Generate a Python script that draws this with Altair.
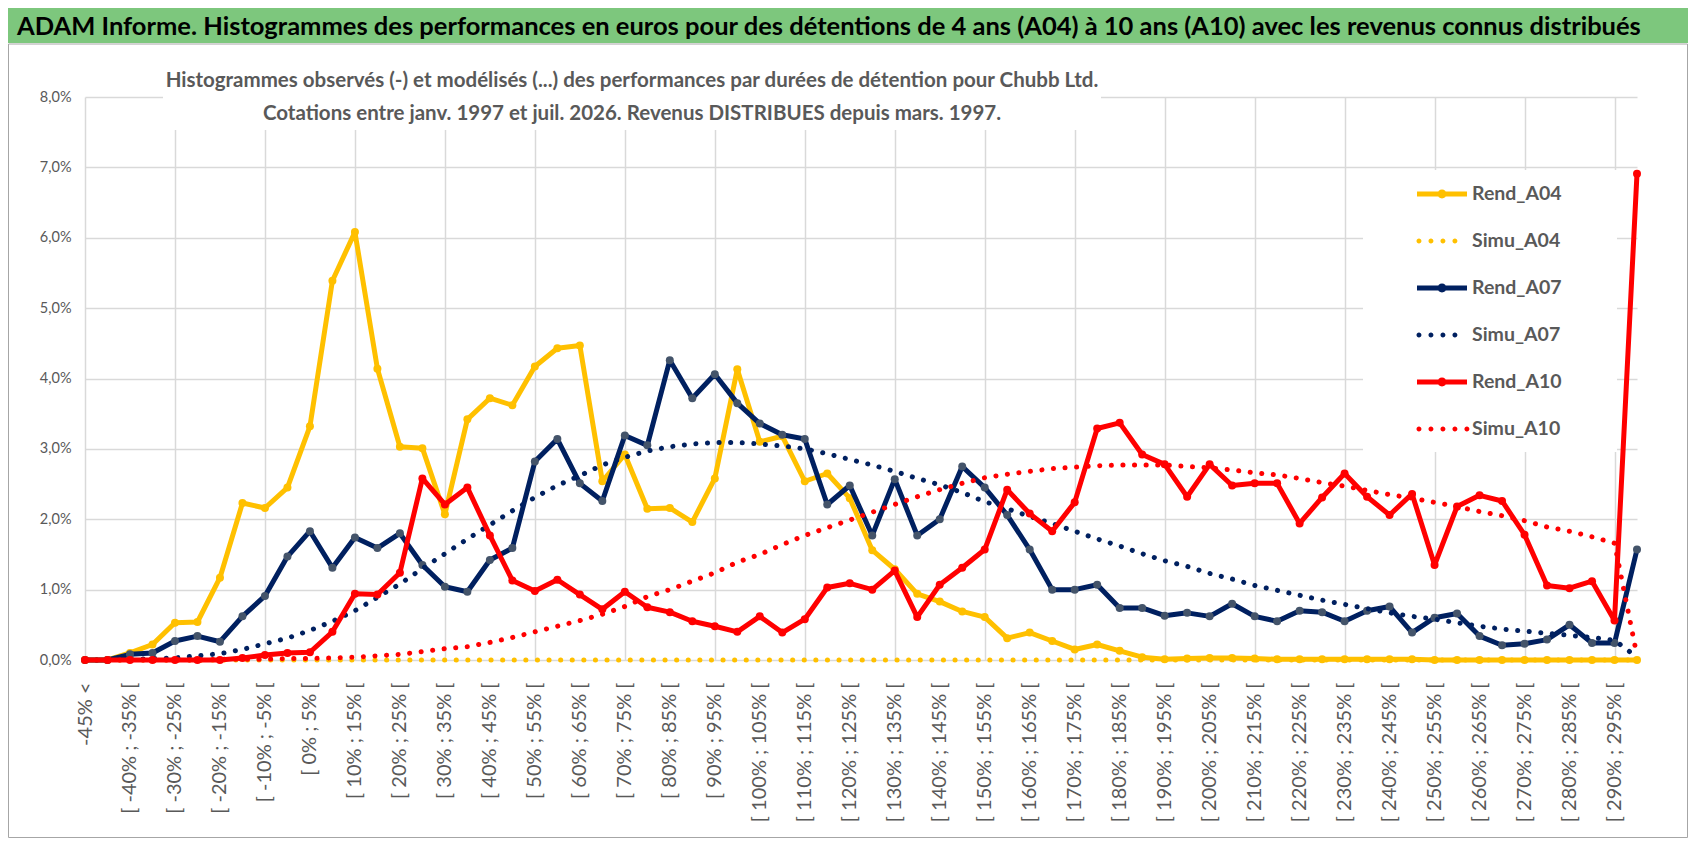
import json

import altair as alt
import pandas as pd

# classes de performance : "-45% <" puis [ b% ; b+5% [ de -45% à 295%
bornes = list(range(-45, 300, 5))
categories = ["-45% <"] + [f"[ {b}% ; {b + 5}% [" for b in bornes]

series = ["Rend_A04", "Simu_A04", "Rend_A07", "Simu_A07", "Rend_A10", "Simu_A10"]
couleurs = ["#FFC000", "#FFC000", "#002060", "#002060", "#FF0000", "#FF0000"]
couleur_duree = {"A04": "#FFC000", "A07": "#002060", "A10": "#FF0000"}
couleur_marqueur = {"A04": "#FFC000", "A07": "#44546A", "A10": "#FF0000"}

# fréquences en %
rend_a04 = [0.00, 0.00, 0.10, 0.22, 0.53, 0.54, 1.17, 2.23, 2.16, 2.45,
            3.32, 5.39, 6.08, 4.14, 3.03, 3.01, 2.07, 3.42, 3.72, 3.62,
            4.17, 4.43, 4.47, 2.54, 2.92, 2.15, 2.16, 1.96, 2.58, 4.13,
            3.10, 3.18, 2.54, 2.65, 2.30, 1.56, 1.29, 0.94, 0.83, 0.69,
            0.61, 0.31, 0.39, 0.27, 0.15, 0.22, 0.13, 0.04, 0.01, 0.02,
            0.03, 0.03, 0.02, 0.01, 0.01, 0.01, 0.01, 0.01, 0.01, 0.01,
            0.00, 0.00, 0.00, 0.00, 0.00, 0.00, 0.00, 0.00, 0.00, 0.00]
simu_a04 = [0.00, 0.00, 0.00, 0.00, 0.00, 0.00, 0.00, 0.00, 0.00, 0.00,
            0.00, 0.00, 0.00, 0.00, 0.00, 0.00, 0.00, 0.00, 0.00, 0.00,
            0.00, 0.00, 0.00, 0.00, 0.00, 0.00, 0.00, 0.00, 0.00, 0.00,
            0.00, 0.00, 0.00, 0.00, 0.00, 0.00, 0.00, 0.00, 0.00, 0.00,
            0.00, 0.00, 0.00, 0.00, 0.00, 0.00, 0.00, 0.00, 0.00, 0.00,
            0.00, 0.00, 0.00, 0.00, 0.00, 0.00, 0.00, 0.00, 0.00, 0.00,
            0.00, 0.00, 0.00, 0.00, 0.00, 0.00, 0.00, 0.00, 0.00, 0.00]
rend_a07 = [0.00, 0.00, 0.08, 0.10, 0.27, 0.34, 0.26, 0.62, 0.91, 1.47,
            1.83, 1.31, 1.74, 1.59, 1.80, 1.35, 1.04, 0.97, 1.42, 1.59,
            2.82, 3.14, 2.51, 2.26, 3.19, 3.05, 4.26, 3.72, 4.06, 3.65,
            3.36, 3.20, 3.14, 2.21, 2.48, 1.77, 2.57, 1.77, 2.00, 2.75,
            2.45, 2.06, 1.57, 1.00, 1.00, 1.07, 0.74, 0.74, 0.63, 0.67,
            0.62, 0.80, 0.62, 0.55, 0.70, 0.68, 0.55, 0.70, 0.76, 0.39,
            0.60, 0.66, 0.34, 0.21, 0.23, 0.29, 0.50, 0.24, 0.24, 1.57]
simu_a07 = [0.00, 0.00, 0.01, 0.02, 0.03, 0.06, 0.09, 0.15, 0.23, 0.31,
            0.42, 0.55, 0.70, 0.89, 1.08, 1.30, 1.51, 1.72, 1.92, 2.12,
            2.31, 2.48, 2.62, 2.77, 2.88, 2.97, 3.03, 3.07, 3.09, 3.09,
            3.07, 3.04, 3.00, 2.93, 2.85, 2.77, 2.68, 2.58, 2.49, 2.38,
            2.25, 2.15, 2.04, 1.94, 1.83, 1.72, 1.62, 1.51, 1.41, 1.33,
            1.23, 1.15, 1.06, 0.99, 0.92, 0.85, 0.79, 0.73, 0.67, 0.62,
            0.58, 0.53, 0.48, 0.44, 0.41, 0.38, 0.35, 0.32, 0.28, 0.04]
rend_a10 = [0.00, 0.00, 0.00, 0.00, 0.00, 0.00, 0.00, 0.03, 0.07, 0.10,
            0.11, 0.40, 0.94, 0.93, 1.24, 2.58, 2.21, 2.45, 1.77, 1.13,
            0.98, 1.14, 0.93, 0.72, 0.97, 0.75, 0.68, 0.55, 0.48, 0.40,
            0.62, 0.39, 0.58, 1.03, 1.09, 1.00, 1.27, 0.61, 1.07, 1.31,
            1.57, 2.42, 2.08, 1.83, 2.24, 3.29, 3.37, 2.92, 2.78, 2.32,
            2.78, 2.48, 2.51, 2.51, 1.94, 2.31, 2.65, 2.32, 2.06, 2.36,
            1.35, 2.18, 2.34, 2.26, 1.78, 1.06, 1.02, 1.12, 0.56, 6.91]
simu_a10 = [0.00, 0.00, 0.00, 0.00, 0.00, 0.00, 0.01, 0.01, 0.01, 0.02,
            0.02, 0.03, 0.04, 0.06, 0.08, 0.12, 0.16, 0.19, 0.25, 0.32,
            0.40, 0.48, 0.56, 0.65, 0.76, 0.90, 1.00, 1.12, 1.24, 1.39,
            1.50, 1.64, 1.77, 1.88, 1.99, 2.10, 2.21, 2.32, 2.42, 2.51,
            2.59, 2.64, 2.68, 2.72, 2.74, 2.76, 2.77, 2.77, 2.77, 2.75,
            2.73, 2.70, 2.66, 2.63, 2.58, 2.52, 2.47, 2.41, 2.35, 2.30,
            2.24, 2.18, 2.11, 2.05, 1.98, 1.89, 1.83, 1.75, 1.66, 0.06]

titre = ("ADAM Informe. Histogrammes des performances en euros pour des détentions "
         "de 4 ans (A04) à 10 ans (A10) avec les revenus connus distribués")
sous_titre = [
    "Histogrammes observés (-) et modélisés (...) des performances par durées de détention pour Chubb Ltd.",
    "Cotations entre janv. 1997 et juil. 2026. Revenus DISTRIBUES depuis mars. 1997.",
]

valeurs = dict(zip(series, [rend_a04, simu_a04, rend_a07, simu_a07, rend_a10, simu_a10]))
rows = []
for nom, vals in valeurs.items():
    for i, v in enumerate(vals):
        rows.append({"idx": i, "categorie": categories[i], "serie": nom, "valeur": v})
df = pd.DataFrame(rows)

FONT = "Lato"
GRIS = "#595959"
W, H = 1552, 563


def rond(cx, r):
    return f"M{cx - r:.3f},0A{r},{r} 0 1,1 {cx + r:.3f},0A{r},{r} 0 1,1 {cx - r:.3f},0Z"


# symboles de légende (unité = 23.5 px)
trait = "M-1.064,-0.106H1.064V0.106H-1.064Z" + rond(0, 0.19)
pointille4 = "".join(rond(c, 0.105) for c in [-0.98, -0.47, 0.04, 0.55])
pointille5 = pointille4 + rond(1.06, 0.105)
formes = [trait, pointille4, trait, pointille4, trait, pointille5]

x_enc = alt.X(
    "idx:Q",
    scale=alt.Scale(domain=[0, 69], nice=False, zero=False),
    axis=alt.Axis(
        values=list(range(0, 69, 2)),
        labelExpr=f"{json.dumps(categories)}[datum.value]",
        labelAngle=-90, labelFont=FONT, labelFontSize=20, labelColor=GRIS,
        labelPadding=22, labelOverlap=False, labelFlush=False,
        domain=False, ticks=False, title=None, zindex=0,
        grid=True, gridColor="#d9d9d9", gridWidth=1.5,
        gridOpacity={"condition": {"test": "datum.value % 4 === 0", "value": 1}, "value": 0},
    ),
)
y_enc = alt.Y(
    "valeur:Q",
    scale=alt.Scale(domain=[0, 8], nice=False),
    axis=alt.Axis(
        values=list(range(0, 9)),
        labelExpr="replace(format(datum.value, '.1f'), '.', ',') + '%'",
        labelFont=FONT, labelFontSize=14.5, labelColor=GRIS, labelPadding=14,
        labelFlush=False, domain=False, ticks=False, title=None, zindex=0,
        grid=True, gridColor="#d9d9d9", gridWidth=1.5,
    ),
)

un = pd.DataFrame({"k": [0]})
cadre = alt.Chart(un).mark_rect(fillOpacity=0, stroke="#a6a6a6", strokeWidth=1).encode(
    x=alt.value(-76.5), x2=alt.value(1602.5), y=alt.value(-53), y2=alt.value(740.5))
bandeau = alt.Chart(un).mark_rect(fill="#7DC77D").encode(
    x=alt.value(-77), x2=alt.value(1603), y=alt.value(-89), y2=alt.value(-54))
fond_sous_titre = alt.Chart(un).mark_rect(fill="white").encode(
    x=alt.value(78), x2=alt.value(1016), y=alt.value(-37), y2=alt.value(33))
fond_legende = alt.Chart(un).mark_rect(fill="white").encode(
    x=alt.value(1278), x2=alt.value(1532), y=alt.value(73), y2=alt.value(355))
texte_sous_titre = alt.Chart(un).mark_text(
    font=FONT, fontSize=20.5, fontWeight="bold", color=GRIS,
    align="center", baseline="top", lineHeight=33,
).encode(x=alt.value(547), y=alt.value(-26), text=alt.value(sous_titre))

base = alt.Chart(df).encode(x=x_enc, y=y_enc)
couches = [cadre, bandeau, fond_sous_titre, fond_legende, texte_sous_titre]
for d in ["A04", "A07", "A10"]:
    rend = base.transform_filter(alt.datum.serie == f"Rend_{d}")
    couches.append(rend.mark_line(color=couleur_duree[d], strokeWidth=5,
                                  strokeJoin="round", strokeCap="round"))
    couches.append(rend.mark_circle(color=couleur_marqueur[d], size=64, opacity=1))
    couches.append(base.transform_filter(alt.datum.serie == f"Simu_{d}").mark_line(
        color=couleur_duree[d], strokeWidth=5, strokeDash=[0.1, 11.5], strokeCap="round"))

leg = alt.Legend(
    title=None, orient="none", legendX=1333.5, legendY=73.5,
    symbolSize=2209, symbolStrokeWidth=0, symbolOpacity=1,
    labelFont=FONT, labelFontSize=19.5, labelFontWeight="bold", labelColor=GRIS,
    labelOffset=6.5, rowPadding=14, padding=0,
)
# couche invisible (taille nulle) qui ne sert qu'à porter la légende
legende = alt.Chart(pd.DataFrame({"serie": series})).mark_point(filled=True, size=0).encode(
    x=alt.value(0), y=alt.value(H),
    color=alt.Color("serie:N", scale=alt.Scale(domain=series, range=couleurs), legend=leg),
    shape=alt.Shape("serie:N", scale=alt.Scale(domain=series, range=formes), legend=leg),
)
couches.append(legende)

chart = alt.layer(*couches).properties(
    width=W, height=H,
    autosize=alt.AutoSizeParams(type="none"),
    padding={"left": 77, "top": 89, "right": 51, "bottom": 178},
    title=alt.TitleParams(
        text=titre, anchor="start", frame="group", dx=-68, offset=-52,
        font=FONT, fontSize=25.5, fontWeight="bold", color="#000000", baseline="alphabetic",
    ),
).configure(background="white").configure_view(strokeOpacity=0)

chart.save("out.html", embed_options={"renderer": "svg", "actions": False})
